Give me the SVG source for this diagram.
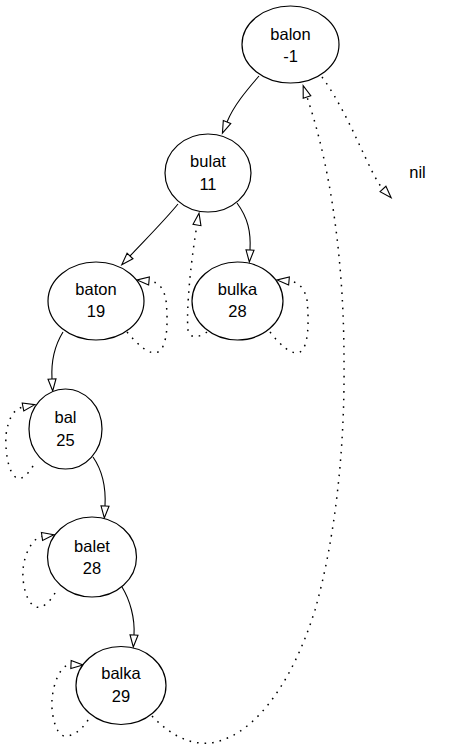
<svg xmlns="http://www.w3.org/2000/svg" width="459" height="749" viewBox="0 0 459 749">
<style>
.node ellipse{fill:#ffffff;stroke:#000000;stroke-width:1.2}
.node text, .lbl{font-family:"Liberation Sans",Arial,sans-serif;font-size:16.5px;fill:#000000;text-anchor:middle}
.edge{fill:none;stroke:#000000;stroke-width:1.1}
.solid{marker-end:url(#arr)}
.dot{stroke-width:1.5;stroke-dasharray:1.6,6;marker-end:url(#arr)}
</style>
<defs>
<marker id="arr" markerUnits="userSpaceOnUse" viewBox="-1 -1 14 10" refX="0" refY="4" markerWidth="14" markerHeight="10" orient="auto" overflow="visible">
<path d="M0,0 L12,4 L0,8 Z" fill="#ffffff" stroke="#000000" stroke-width="1.1"/>
</marker>
</defs>
<rect width="459" height="749" fill="#ffffff"/>
<g id="edges">
<path class="edge solid" d="M259,76 C247,90 234,105 227,122"/>
<path class="edge solid" d="M178,204 C165,220 145,240 130,256"/>
<path class="edge solid" d="M237,203 C248,218 251,232 250,250"/>
<path class="edge solid" d="M63,332 C55,345 51,362 52,379"/>
<path class="edge solid" d="M93,457 C102,470 106,488 105,506"/>
<path class="edge solid" d="M122,587 C130,600 135,618 134,635"/>
<path class="edge dot" d="M322,77 C350,115 370,175 383,189"/>
<path class="edge dot" d="M152,716 C170,735 190,745 210,743 C250,738 290,690 315,610 C335,540 345,450 344,360 C344,280 335,180 307,97"/>
<path class="edge dot" d="M127,332 C138,345 150,356 158,352 C168,347 168,320 166,300 C164,290 160,282 149,281"/>
<path class="edge dot" d="M270,332 C280,345 292,356 300,352 C309,347 309,320 307,300 C305,290 300,282 289,281"/>
<path class="edge dot" d="M207,332 C200,337 190,340 188,330 C186,310 191,260 197,225"/>
<path class="edge dot" d="M33,466 C28,474 22,480 17,478 C8,474 5,450 6,435 C8,420 13,409 23,407"/>
<path class="edge dot" d="M55,593 C50,602 42,609 36,607 C27,604 22,585 23,570 C24,555 32,538 42,536.5"/>
<path class="edge dot" d="M88,720 C82,730 72,737 64,736 C55,734 51,712 52,700 C53,685 60,664 71,664.5"/>
</g>
<g id="balon" class="node"><ellipse cx="290.5" cy="44.5" rx="48.5" ry="38.5"/><text x="290.5" y="40">balon</text><text x="290.5" y="62">-1</text></g>
<g id="bulat" class="node"><ellipse cx="208" cy="173" rx="43" ry="39"/><text x="208" y="167">bulat</text><text x="208" y="190">11</text></g>
<g id="baton" class="node"><ellipse cx="96" cy="301" rx="48" ry="39"/><text x="96" y="295">baton</text><text x="96" y="317">19</text></g>
<g id="bulka" class="node"><ellipse cx="237.5" cy="301" rx="45.5" ry="39"/><text x="237.5" y="295">bulka</text><text x="237.5" y="317">28</text></g>
<g id="bal" class="node"><ellipse cx="65.5" cy="429" rx="36.5" ry="40"/><text x="65.5" y="423">bal</text><text x="65.5" y="446">25</text></g>
<g id="balet" class="node"><ellipse cx="92" cy="557" rx="44.5" ry="40"/><text x="92" y="552">balet</text><text x="92" y="574">28</text></g>
<g id="balka" class="node"><ellipse cx="121" cy="685.5" rx="45" ry="39"/><text x="121" y="679">balka</text><text x="121" y="702">29</text></g>
<g id="nil" class="node"><text x="417.5" y="178">nil</text></g>
</svg>
